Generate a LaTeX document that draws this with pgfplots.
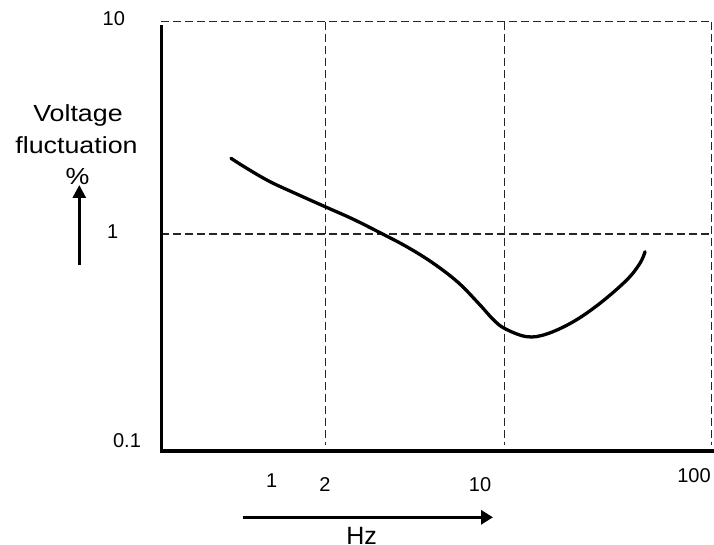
\documentclass[border=0pt]{standalone}
\usepackage{pgfplots}
\pgfplotsset{compat=1.18}
\usepackage{fontspec}
\setmainfont{Liberation Sans}
\newfontfamily\widefont[FakeStretch=1.15]{Liberation Sans}
\usetikzlibrary{arrows.meta}
\begin{document}
\begin{tikzpicture}
\useasboundingbox (-161.7bp,-94bp) rectangle (552.3bp,451bp);
\begin{axis}[at={(0,0)}, anchor=south west, scale only axis,
  width=550bp, height=429.3bp,
  xmode=log, ymode=log,
  xmin=0.3, xmax=121.3, ymin=0.095, ymax=10,
  axis lines=none, clip=false]
% dashed grid
\draw[black!85, line width=1.1bp, dash pattern=on 8bp off 4bp]
  (axis cs:0.297,10) -- (axis cs:121.3,10)
  (axis cs:0.297,1) -- (axis cs:121.3,1)
  (axis cs:1.795,10) -- (axis cs:1.795,0.101)
  (axis cs:12.65,10) -- (axis cs:12.65,0.101)
  (axis cs:121.3,10) -- (axis cs:121.3,0.101);
% bold axes
\draw[line width=3.3bp] (axis cs:0.3,9.65) -- (axis cs:0.3,0.095) -- (axis cs:124.4,0.095);
% curve
\addplot[smooth, tension=0.6, line width=3.3bp, black, line cap=round] coordinates {
  (0.639,2.273) (0.759,2.039) (0.978,1.764) (1.309,1.543) (1.783,1.345)
  (2.428,1.173) (3.25,1.014) (4.35,0.871) (5.81,0.728) (7.64,0.590)
  (9.68,0.463) (11.19,0.395) (12.72,0.358) (16.11,0.3283) (20.04,0.338)
  (26.79,0.3863) (35.85,0.4716) (47.98,0.607) (55.46,0.728) (58.6,0.825)
};
\end{axis}
% y labels
\node[font=\fontsize{20bp}{24bp}\selectfont] at (-47.9bp,432.2bp) {10};
\node[font=\fontsize{20bp}{24bp}\selectfont] at (-48.9bp,219.3bp) {1};
\node[font=\fontsize{20bp}{24bp}\selectfont] at (-34.7bp,10.5bp) {0.1};
% x labels
\node[font=\fontsize{20bp}{24bp}\selectfont] at (110bp,-30bp) {1};
\node[font=\fontsize{20bp}{24bp}\selectfont] at (163.3bp,-34bp) {2};
\node[font=\fontsize{20bp}{24bp}\selectfont] at (318.3bp,-34bp) {10};
\node[font=\fontsize{20bp}{24bp}\selectfont] at (532.3bp,-25bp) {100};
% axis titles
\node[font=\widefont\fontsize{23.3bp}{28bp}\selectfont, anchor=base] at (-83.7bp,329.3bp) {Voltage};
\node[font=\widefont\fontsize{23.3bp}{28bp}\selectfont, anchor=base] at (-85.2bp,297.7bp) {fluctuation};
\node[font=\widefont\fontsize{23.3bp}{28bp}\selectfont, anchor=base] at (-84.2bp,266bp) {\%};
\draw[line width=2.8bp, -{Triangle[length=13bp,width=13bp]}] (-82.4bp,186bp) -- (-82.4bp,266bp);
\draw[line width=3.2bp, -{Triangle[length=12bp,width=14bp]}] (81.3bp,-66.3bp) -- (331.3bp,-66.3bp);
\node[font=\fontsize{25bp}{30bp}\selectfont, anchor=north] at (200bp,-72.5bp) {Hz};
\end{tikzpicture}
\end{document}
